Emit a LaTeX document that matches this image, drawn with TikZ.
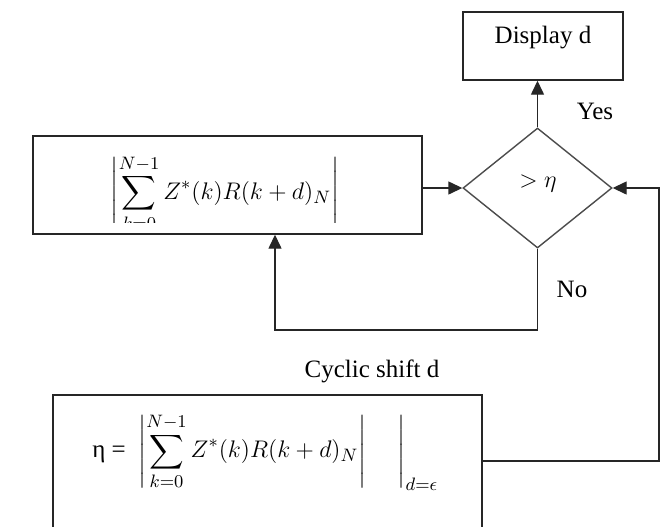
\documentclass[tikz,border=0pt]{standalone}
\usepackage{amsmath}
\usepackage{fontspec}
\setmainfont{Liberation Serif}
\usetikzlibrary{arrows.meta,shapes.geometric}
\begin{document}
\begin{tikzpicture}[x=0.5pt,y=-0.5pt,
  box/.style={draw=black!85, line width=0.7pt, rectangle, inner sep=0pt},
  lbl/.style={font=\fontsize{12.5}{14}\selectfont, inner sep=0pt},
  mth/.style={font=\fontsize{12.5}{14}\selectfont, inner sep=0pt},
  conn/.style={draw=black!85, line width=0.7pt},
  arr/.style={conn, -{Triangle[length=7pt,width=6.5pt]}}]
\useasboundingbox (0,0) rectangle (660,526);
\fill[white] (0,0) rectangle (660,526);
% nodes
\node[box, minimum width=80pt, minimum height=34pt] (disp) at (543,46) {};
\node[lbl] (disptext) at (543,38) {Display d};
\node[draw=black!70, line width=0.7pt, diamond, aspect=1.24, inner sep=0pt,
      minimum width=74.5pt, minimum height=60pt] (dia) at (537.5,188) {};
\node[mth] (diatext) at (538,184) {$>\eta$};
\node[box, minimum width=194.5pt, minimum height=49pt] (sumbox) at (227.5,185) {};
\begin{scope}
\clip (33,136) rectangle (422,222);
\node[mth] (sumtext) at (225,193) {$\displaystyle\left|\sum_{k=0}^{N-1} Z^{*}(k)R(k+d)_N\right|$};
\end{scope}
\node[box, minimum width=214.5pt, minimum height=75pt] (botbox) at (267.5,470) {};
\node[mth, anchor=west] (bottext) at (92,452) {η =\ \ $\displaystyle\left|\sum_{k=0}^{N-1} Z^{*}(k)R(k+d)_N\right|\quad\left.\vphantom{\sum_{k=0}^{N-1}}\right|_{d=\epsilon}$};
\node[lbl] (cyc) at (372,371) {Cyclic shift d};
\node[lbl] (yes) at (595,111) {Yes};
\node[lbl] (no) at (572,289) {No};
\coordinate (loopc) at (275,330);
\coordinate (rc) at (659,461);
% connectors
\draw[arr] (dia.north) -- (dia.north |- disp.south);
\draw[arr] (sumbox.east |- dia.west) -- (dia.west);
\draw[arr] (dia.south) |- (loopc) -- (loopc |- sumbox.south);
\draw[arr] (rc -| botbox.east) -- (rc) |- (dia.east);
\end{tikzpicture}
\end{document}
